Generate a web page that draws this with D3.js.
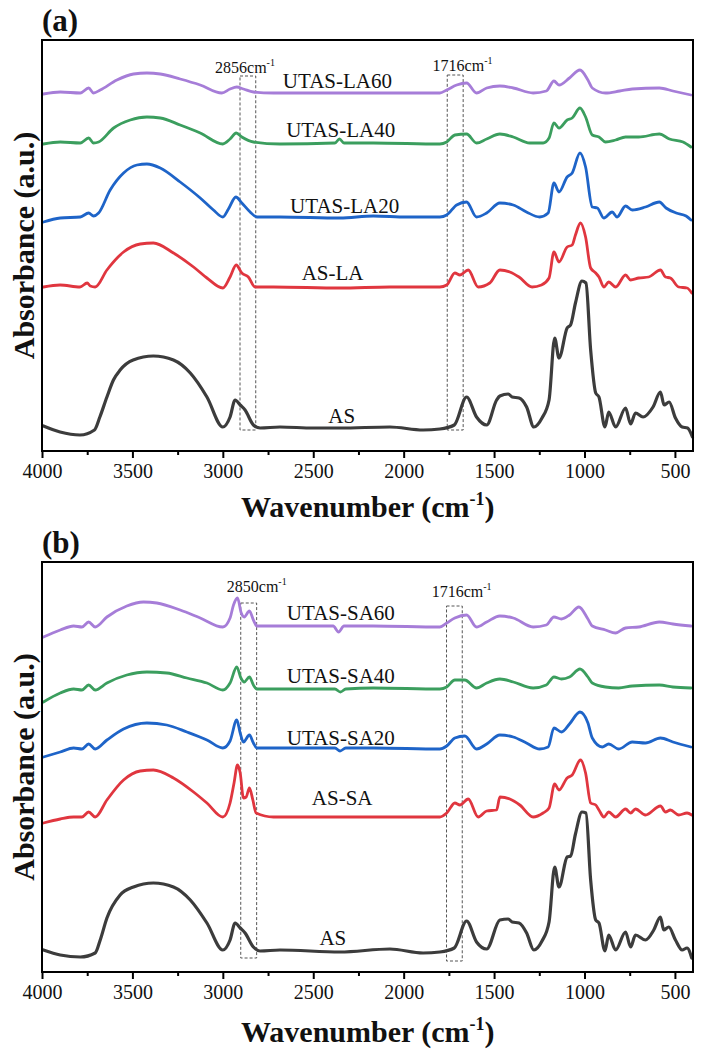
<!DOCTYPE html>
<html><head><meta charset="utf-8">
<script src="https://cdn.jsdelivr.net/npm/d3@7"></script>
<style>body{margin:0;background:#fff}</style></head>
<body><svg id="chart" width="705" height="1053"></svg>
<script>
// ---------------- DATA ----------------
const xTicks = [4000, 3500, 3000, 2500, 2000, 1500, 1000, 500];
const xMinorTicks = [3750, 3250, 2750, 2250, 1750, 1250, 750];
const xDomain = [4000, 400];

const seriesNamesA = ["UTAS-LA60", "UTAS-LA40", "UTAS-LA20", "AS-LA", "AS"];
const seriesNamesB = ["UTAS-SA60", "UTAS-SA40", "UTAS-SA20", "AS-SA", "AS"];

// [wavenumber (cm-1), absorbance (a.u., stacked)]
const utasLA60 = [[3992,3.57],[3899,3.59],[3788,3.58],[3742,3.63],[3715,3.58],[3678,3.61],[3586,3.71],[3494,3.77],[3420,3.78],[3346,3.77],[3236,3.72],[3125,3.66],[3006,3.58],[2960,3.62],[2923,3.64],[2886,3.62],[2831,3.59],[2720,3.58],[2352,3.58],[1984,3.58],[1800,3.58],[1762,3.61],[1707,3.66],[1652,3.68],[1597,3.58],[1541,3.63],[1468,3.65],[1394,3.63],[1284,3.58],[1211,3.60],[1169,3.70],[1141,3.66],[1083,3.73],[1025,3.81],[981,3.71],[957,3.63],[884,3.58],[805,3.60],[736,3.62],[586,3.63],[511,3.60],[411,3.56]];
const utasLA40 = [[3992,3.07],[3899,3.09],[3788,3.08],[3742,3.13],[3715,3.08],[3687,3.09],[3604,3.23],[3512,3.31],[3420,3.34],[3346,3.33],[3236,3.26],[3125,3.18],[3000,3.07],[2960,3.12],[2926,3.18],[2895,3.14],[2831,3.09],[2684,3.07],[2380,3.08],[2355,3.12],[2330,3.08],[2168,3.08],[1800,3.07],[1762,3.09],[1717,3.16],[1652,3.17],[1597,3.08],[1541,3.12],[1468,3.17],[1394,3.14],[1303,3.08],[1229,3.08],[1196,3.13],[1169,3.28],[1141,3.23],[1096,3.31],[1068,3.33],[1025,3.43],[994,3.34],[957,3.16],[920,3.14],[884,3.09],[828,3.11],[773,3.14],[700,3.14],[586,3.17],[530,3.12],[455,3.09],[411,3.04]];
const utasLA20 = [[3992,2.29],[3899,2.33],[3788,2.34],[3742,2.38],[3715,2.35],[3687,2.38],[3623,2.61],[3549,2.78],[3475,2.86],[3420,2.87],[3346,2.83],[3236,2.69],[3125,2.53],[3052,2.41],[3000,2.34],[2969,2.42],[2928,2.54],[2895,2.48],[2849,2.39],[2812,2.34],[2684,2.34],[2352,2.33],[2168,2.35],[1984,2.34],[1800,2.34],[1762,2.36],[1707,2.46],[1652,2.49],[1597,2.34],[1541,2.38],[1468,2.48],[1394,2.46],[1321,2.39],[1248,2.34],[1201,2.38],[1169,2.68],[1141,2.59],[1096,2.74],[1068,2.78],[1025,2.98],[994,2.84],[957,2.44],[929,2.43],[893,2.33],[847,2.39],[820,2.34],[773,2.45],[736,2.41],[663,2.44],[586,2.49],[549,2.43],[493,2.38],[438,2.35],[411,2.31]];
const asLA = [[3992,1.64],[3900,1.66],[3790,1.64],[3750,1.68],[3733,1.65],[3706,1.64],[3641,1.81],[3549,1.99],[3457,2.07],[3384,2.08],[3273,1.98],[3162,1.84],[3088,1.73],[3000,1.63],[2960,1.74],[2926,1.86],[2895,1.78],[2859,1.74],[2822,1.64],[2720,1.64],[2352,1.63],[2076,1.64],[1800,1.64],[1762,1.66],[1717,1.78],[1689,1.76],[1643,1.81],[1588,1.64],[1524,1.68],[1468,1.81],[1413,1.79],[1362,1.74],[1290,1.64],[1238,1.66],[1196,1.73],[1169,1.99],[1141,1.89],[1096,2.04],[1068,2.06],[1050,2.16],[1022,2.28],[994,2.14],[966,1.83],[938,1.78],[920,1.74],[893,1.64],[866,1.69],[828,1.64],[773,1.76],[745,1.71],[700,1.73],[645,1.74],[580,1.81],[552,1.74],[525,1.73],[479,1.64],[433,1.63],[407,1.58]];
const asA = [[3992,0.25],[3900,0.19],[3790,0.16],[3710,0.21],[3680,0.34],[3641,0.54],[3605,0.71],[3568,0.81],[3496,0.91],[3384,0.95],[3273,0.91],[3180,0.78],[3088,0.54],[3000,0.24],[2960,0.34],[2932,0.51],[2904,0.46],[2877,0.41],[2831,0.26],[2794,0.23],[2684,0.24],[2500,0.23],[2352,0.23],[2076,0.24],[1893,0.21],[1800,0.22],[1720,0.26],[1652,0.54],[1597,0.34],[1541,0.26],[1486,0.51],[1468,0.55],[1422,0.57],[1400,0.54],[1362,0.53],[1320,0.44],[1280,0.24],[1235,0.33],[1196,0.51],[1165,1.13],[1141,0.93],[1096,1.23],[1077,1.26],[1050,1.48],[1014,1.70],[992,1.68],[966,1.01],[938,0.58],[920,0.54],[887,0.24],[866,0.39],[828,0.24],[773,0.43],[745,0.27],[718,0.38],[676,0.34],[621,0.44],[580,0.59],[560,0.46],[532,0.49],[497,0.33],[460,0.24],[430,0.23],[403,0.14]];

const utasSA60 = [[3992,3.35],[3899,3.42],[3825,3.46],[3779,3.45],[3742,3.50],[3706,3.45],[3641,3.55],[3531,3.66],[3439,3.70],[3365,3.69],[3236,3.62],[3125,3.54],[3000,3.45],[2960,3.54],[2941,3.67],[2919,3.74],[2898,3.59],[2882,3.55],[2853,3.61],[2831,3.52],[2812,3.46],[2684,3.46],[2390,3.46],[2360,3.40],[2330,3.46],[2168,3.46],[1800,3.45],[1762,3.49],[1717,3.54],[1652,3.57],[1597,3.45],[1541,3.50],[1468,3.56],[1394,3.54],[1284,3.45],[1211,3.47],[1169,3.55],[1127,3.53],[1083,3.57],[1031,3.65],[981,3.53],[957,3.46],[884,3.42],[828,3.39],[773,3.44],[700,3.45],[586,3.50],[511,3.48],[411,3.46]];
const utasSA40 = [[3992,2.70],[3899,2.79],[3825,2.83],[3779,2.82],[3742,2.87],[3706,2.82],[3641,2.89],[3531,2.97],[3420,3.00],[3310,2.99],[3199,2.94],[3088,2.89],[3000,2.82],[2960,2.89],[2923,3.05],[2900,2.94],[2882,2.90],[2853,2.95],[2831,2.87],[2812,2.83],[2684,2.83],[2380,2.83],[2350,2.80],[2320,2.83],[2168,2.84],[1800,2.83],[1762,2.85],[1717,2.92],[1662,2.92],[1597,2.84],[1541,2.89],[1468,2.93],[1394,2.90],[1284,2.84],[1211,2.87],[1169,2.95],[1127,2.93],[1083,2.95],[1025,3.03],[981,2.95],[957,2.89],[884,2.85],[811,2.84],[736,2.86],[586,2.87],[511,2.85],[411,2.84]];
const utasSA20 = [[3992,2.15],[3899,2.20],[3825,2.24],[3779,2.23],[3742,2.28],[3706,2.23],[3641,2.32],[3549,2.43],[3420,2.49],[3310,2.47],[3199,2.40],[3088,2.32],[3000,2.24],[2960,2.31],[2923,2.52],[2904,2.39],[2886,2.30],[2853,2.37],[2831,2.29],[2812,2.24],[2684,2.24],[2380,2.24],[2352,2.21],[2320,2.24],[2168,2.24],[1800,2.23],[1762,2.26],[1717,2.34],[1662,2.36],[1597,2.23],[1541,2.28],[1468,2.37],[1394,2.35],[1321,2.29],[1248,2.23],[1201,2.25],[1169,2.44],[1127,2.40],[1083,2.48],[1025,2.60],[981,2.49],[957,2.34],[902,2.25],[866,2.28],[811,2.23],[736,2.30],[663,2.29],[580,2.34],[511,2.30],[411,2.25]];
const asSA = [[3992,1.49],[3899,1.53],[3825,1.55],[3779,1.55],[3742,1.60],[3706,1.55],[3641,1.72],[3549,1.92],[3457,2.01],[3384,2.02],[3273,1.94],[3162,1.80],[3088,1.69],[3000,1.55],[2960,1.69],[2938,1.89],[2919,2.07],[2904,1.99],[2886,1.74],[2871,1.75],[2853,1.84],[2834,1.72],[2816,1.59],[2720,1.55],[2352,1.55],[1984,1.55],[1800,1.55],[1762,1.59],[1717,1.69],[1689,1.67],[1643,1.73],[1588,1.55],[1541,1.61],[1486,1.62],[1468,1.75],[1413,1.73],[1358,1.67],[1284,1.55],[1229,1.59],[1196,1.64],[1165,1.88],[1141,1.82],[1096,1.94],[1068,1.97],[1022,2.12],[994,1.99],[966,1.69],[938,1.67],[920,1.62],[893,1.55],[866,1.60],[828,1.55],[773,1.63],[745,1.59],[718,1.63],[663,1.57],[580,1.66],[552,1.60],[525,1.62],[479,1.57],[433,1.59],[407,1.57]];
const asB = [[3992,0.22],[3899,0.17],[3788,0.15],[3706,0.19],[3678,0.32],[3641,0.54],[3568,0.77],[3494,0.85],[3384,0.89],[3273,0.85],[3180,0.72],[3088,0.49],[3000,0.22],[2960,0.32],[2932,0.49],[2904,0.44],[2877,0.39],[2831,0.25],[2794,0.21],[2684,0.22],[2352,0.20],[2076,0.23],[1893,0.19],[1800,0.20],[1720,0.24],[1652,0.51],[1597,0.30],[1541,0.23],[1468,0.52],[1422,0.53],[1400,0.50],[1362,0.49],[1320,0.39],[1280,0.22],[1235,0.31],[1196,0.50],[1165,1.05],[1141,0.85],[1096,1.15],[1077,1.16],[1050,1.38],[1014,1.60],[992,1.59],[966,0.92],[938,0.52],[920,0.49],[887,0.21],[866,0.37],[828,0.22],[773,0.40],[745,0.25],[718,0.37],[663,0.32],[617,0.42],[580,0.55],[562,0.42],[534,0.45],[497,0.32],[460,0.22],[433,0.24],[407,0.14]];

// curve label anchors: [wavenumber at text start, baseline absorbance]
const labelPosA = [[2668,3.63],[2650,3.14],[2628,2.38],[2564,1.71],[2417,0.28]];
const labelPosB = [[2646,3.52],[2646,2.89],[2646,2.27],[2508,1.67],[2466,0.27]];

// dashed boxes: [wn left, wn right, top, bottom]
const boxesA = [[2905,2818,3.75,0.21],[1759,1671,3.76,0.21]];
const boxesB = [[2901,2813,3.69,0.14],[1763,1676,3.66,0.11]];
// annotations: [number text, wn at text start, baseline absorbance]
const notesA = [["2856",3043,3.78],["1716",1840,3.80]];
const notesB = [["2850",2978,3.80],["1716",1845,3.75]];

const yDomainA = [0, 4.11];
const yDomainB = [0, 4.10];

// ---------------- DRAW ----------------
const colors = ["#a67dd8", "#3b9e5e", "#1e64c8", "#e0363f", "#3c3c3c"];
const svg = d3.select("#chart");
const serif = "'Liberation Serif','Times New Roman',serif";
const left = 42, right = 693;

function panel(cfg) {
  const x = d3.scaleLinear().domain(xDomain).range([left, right]);
  const y = d3.scaleLinear().domain(cfg.yDomain).range([cfg.bottom, cfg.top]);
  const g = svg.append("g");

  cfg.boxes.forEach(b => {
    g.append("rect")
      .attr("x", x(b[0])).attr("y", y(b[2]))
      .attr("width", x(b[1]) - x(b[0])).attr("height", y(b[3]) - y(b[2]))
      .attr("fill", "none").attr("stroke", "#555").attr("stroke-width", 1)
      .attr("stroke-dasharray", "3,2");
  });

  const line = d3.line().x(d => x(d[0])).y(d => y(d[1])).curve(d3.curveMonotoneX);
  cfg.series.forEach((s, i) => {
    g.append("path").datum(s).attr("d", line)
      .attr("fill", "none").attr("stroke", colors[i])
      .attr("stroke-width", i === 4 ? 3.2 : 2.8)
      .attr("stroke-linejoin", "round").attr("stroke-linecap", "round");
  });

  cfg.names.forEach((n, i) => {
    g.append("text").attr("x", x(cfg.labelPos[i][0])).attr("y", y(cfg.labelPos[i][1]))
      .attr("font-family", serif).attr("font-size", 21).attr("fill", "#111").text(n);
  });

  cfg.notes.forEach(nt => {
    const t = g.append("text").attr("x", x(nt[1])).attr("y", y(nt[2]))
      .attr("font-family", serif).attr("font-size", 16).attr("fill", "#111");
    t.append("tspan").text(nt[0] + "cm");
    t.append("tspan").attr("font-size", 10).attr("dy", -7).text("-1");
  });

  g.append("rect").attr("x", left).attr("y", cfg.top)
    .attr("width", right - left).attr("height", cfg.bottom - cfg.top)
    .attr("fill", "none").attr("stroke", "#000").attr("stroke-width", 2);

  const ax = g.append("g").attr("transform", `translate(0,${cfg.bottom})`)
    .call(d3.axisBottom(x).tickValues(xTicks).tickSize(7).tickPadding(6).tickFormat(d3.format("d")));
  ax.select(".domain").remove();
  ax.selectAll(".tick line").attr("stroke", "#000").attr("stroke-width", 2);
  ax.selectAll("text").attr("font-family", serif).attr("font-size", 20).attr("fill", "#111");
  const axm = g.append("g").attr("transform", `translate(0,${cfg.bottom})`)
    .call(d3.axisBottom(x).tickValues(xMinorTicks).tickSize(4).tickFormat(""));
  axm.select(".domain").remove();
  axm.selectAll(".tick line").attr("stroke", "#000").attr("stroke-width", 2);

  const xt = g.append("text").attr("x", 241).attr("y", cfg.xTitleY)
    .attr("font-family", serif).attr("font-weight", "bold").attr("font-size", 30).attr("fill", "#111");
  xt.append("tspan").text("Wavenumber (cm");
  xt.append("tspan").attr("font-size", 18).attr("dy", -12).text("-1");
  xt.append("tspan").attr("dy", 12).text(")");

  const cy = (cfg.top + cfg.bottom) / 2;
  g.append("text").attr("transform", `translate(34,${cy}) rotate(-90)`)
    .attr("text-anchor", "middle")
    .attr("font-family", serif).attr("font-weight", "bold").attr("font-size", 30).attr("fill", "#111")
    .text("Absorbance (a.u.)");

  g.append("text").attr("x", 42).attr("y", cfg.tagY)
    .attr("font-family", serif).attr("font-weight", "bold").attr("font-size", 31).attr("fill", "#111")
    .text(cfg.tag);
}

panel({top: 40, bottom: 451, yDomain: yDomainA, names: seriesNamesA,
  series: [utasLA60, utasLA40, utasLA20, asLA, asA], labelPos: labelPosA,
  boxes: boxesA, notes: notesA, xTitleY: 517, tagY: 31, tag: "(a)"});
panel({top: 562, bottom: 972, yDomain: yDomainB, names: seriesNamesB,
  series: [utasSA60, utasSA40, utasSA20, asSA, asB], labelPos: labelPosB,
  boxes: boxesB, notes: notesB, xTitleY: 1042, tagY: 553, tag: "(b)"});
</script>
</body></html>
